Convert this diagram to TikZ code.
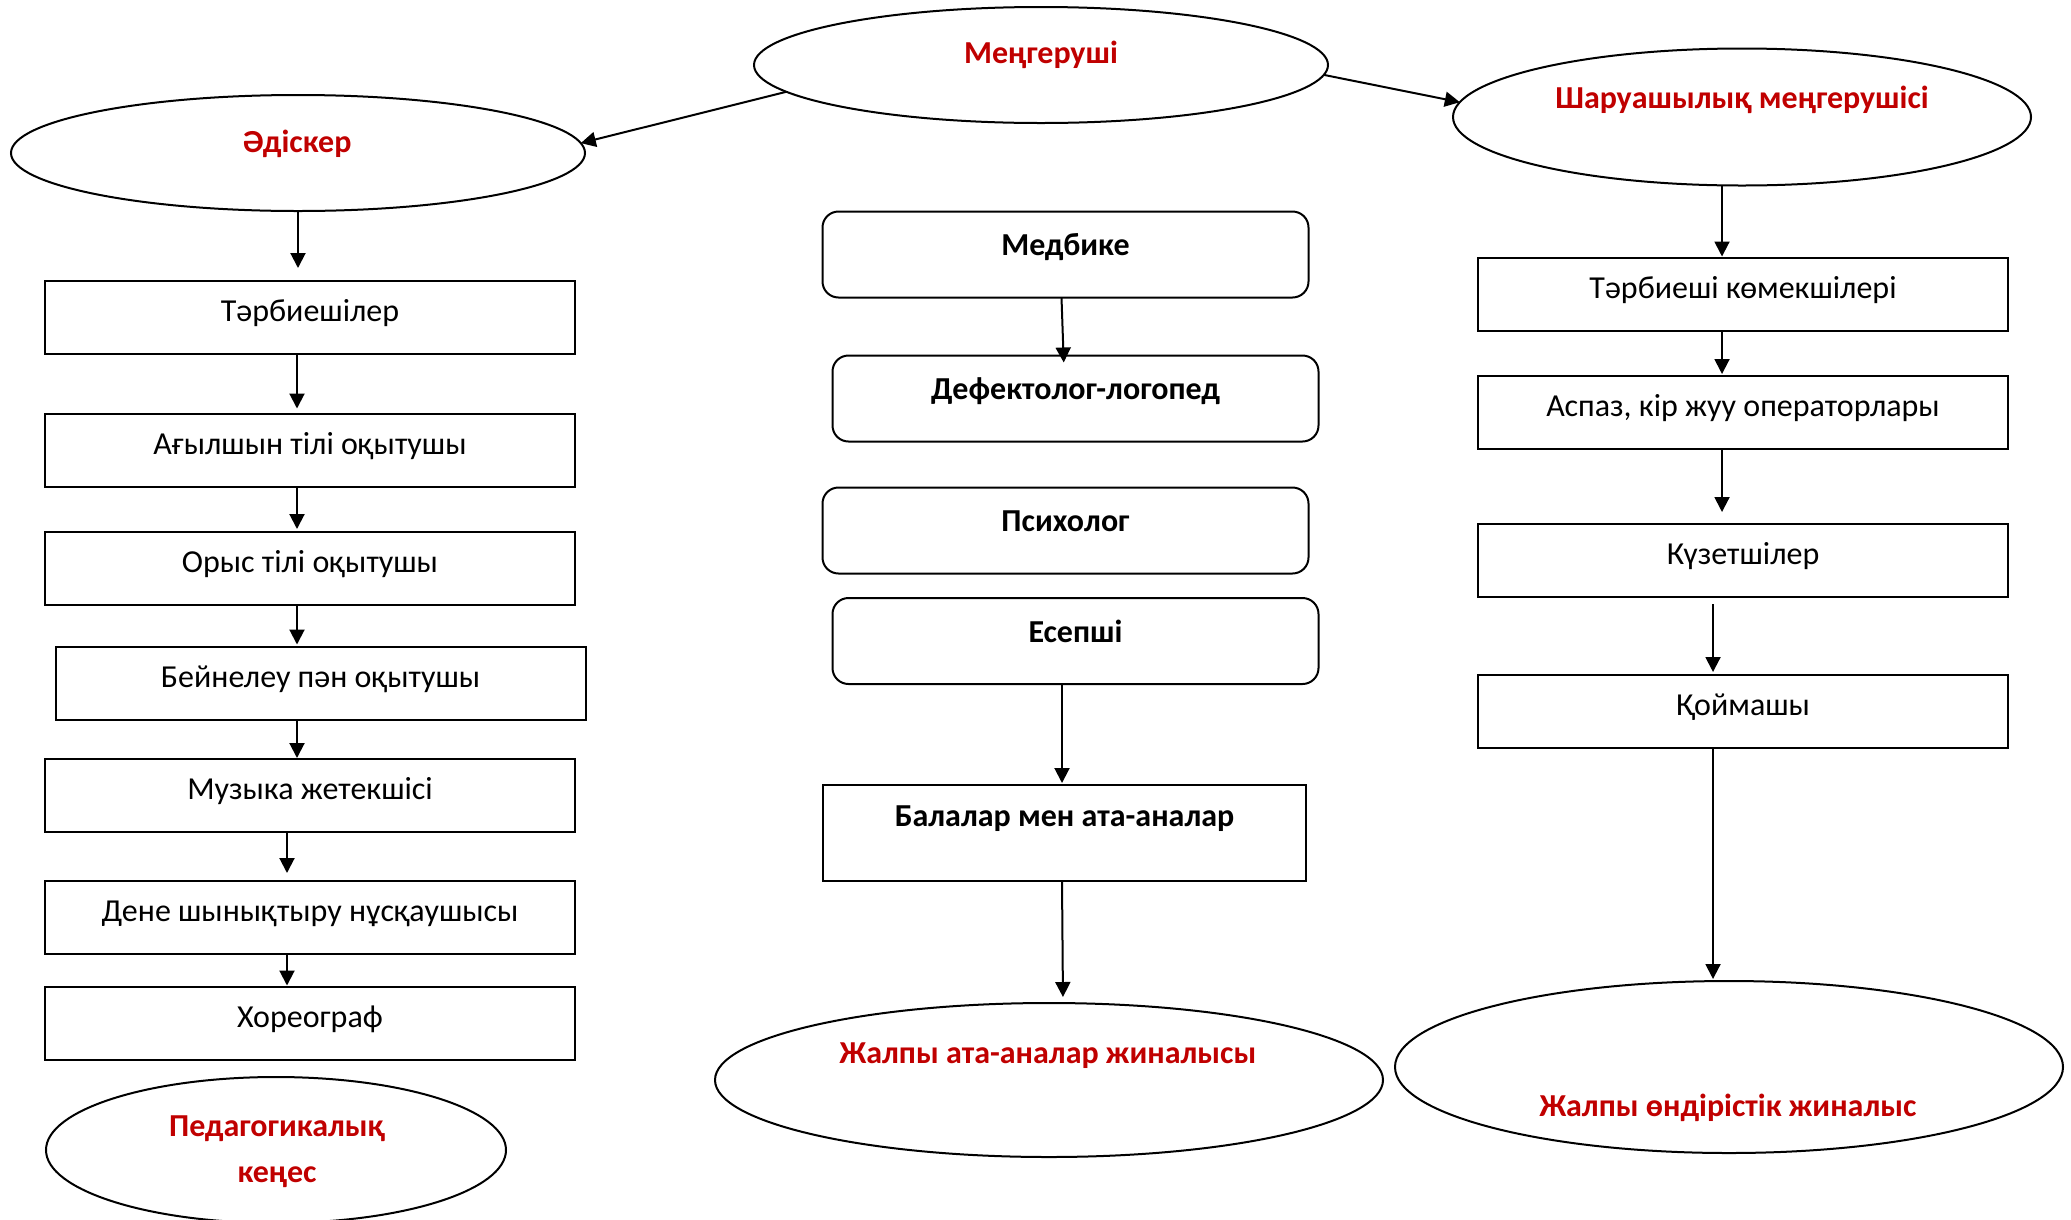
\documentclass[tikz,border=0pt]{standalone}
\usepackage{fontspec}
\setmainfont{Carlito}
\usetikzlibrary{arrows.meta,shapes.geometric}
\definecolor{wred}{HTML}{C00000}
\begin{document}
\begin{tikzpicture}[x=1pt,y=-1pt,
  every node/.style={inner sep=0pt, outer sep=0pt},
  ell/.style={draw, ellipse, line width=2pt},
  sbox/.style={draw, rectangle, line width=2pt, minimum width=530pt, minimum height=73pt},
  rbox/.style={draw, rectangle, rounded corners=16pt, line width=2pt, minimum width=486pt, minimum height=86pt},
  txt/.style={anchor=base, font=\fontsize{32}{38}\selectfont},
  btxt/.style={anchor=base, font=\fontsize{32}{38}\selectfont\bfseries},
  rtxt/.style={btxt, text=wred},
  arr/.style={line width=2pt, -{Triangle[length=15pt,width=15pt]}}
]
\useasboundingbox (0,0) rectangle (2071,1219);

% ellipses top
\node[ell, minimum width=574pt, minimum height=116pt] (men) at (1041,65) {};
\node[rtxt] (menT) at (1041,63) {Меңгеруші};
\node[ell, minimum width=574pt, minimum height=116pt] (adi) at (298,153) {};
\node[rtxt] (adiT) at (297,152) {Әдіскер};
\node[ell, minimum width=578pt, minimum height=137pt] (shar) at (1742,117) {};
\node[rtxt] (sharT) at (1742,108) {Шаруашылық меңгерушісі};

% left column
\node[sbox] (tarb) at (310,317.5) {};
\node[txt] (tarbT) at (310,321.5) {Тәрбиешілер};
\node[sbox] (agyl) at (310,450) {};
\node[txt] (agylT) at (310,454) {Ағылшын тілі оқытушы};
\node[sbox] (orys) at (310,568.5) {};
\node[txt] (orysT) at (310,572.5) {Орыс тілі оқытушы};
\node[sbox] (bein) at (320.5,683) {};
\node[txt] (beinT) at (320.5,687) {Бейнелеу пән оқытушы};
\node[sbox] (muz) at (310,795.5) {};
\node[txt] (muzT) at (310,799.5) {Музыка жетекшісі};
\node[sbox] (dene) at (310,917.5) {};
\node[txt] (deneT) at (310,921.5) {Дене шынықтыру нұсқаушысы};
\node[sbox] (hor) at (310,1023) {};
\node[txt] (horT) at (310,1027) {Хореограф};
\node[ell, minimum width=460pt, minimum height=146pt] (ped) at (276,1150) {};
\node[rtxt] (pedT1) at (277,1136) {Педагогикалық};
\node[rtxt] (pedT2) at (277,1182) {кеңес};

% middle column
\node[rbox] (medb) at (1065.5,254.5) {};
\node[btxt] (medbT) at (1065.5,255) {Медбике};
\node[rbox] (def) at (1075.5,398.5) {};
\node[btxt] (defT) at (1075.5,399) {Дефектолог-логопед};
\node[rbox] (psy) at (1065.5,530.5) {};
\node[btxt] (psyT) at (1065.5,531) {Психолог};
\node[rbox] (esep) at (1075.5,641) {};
\node[btxt] (esepT) at (1075.5,642) {Есепші};
\node[draw, rectangle, line width=2pt, minimum width=483pt, minimum height=96pt] (bal) at (1064.5,833) {};
\node[btxt] (balT) at (1064.5,826) {Балалар мен ата-аналар};
\node[ell, minimum width=668pt, minimum height=154pt] (zh1) at (1049,1080) {};
\node[rtxt] (zh1T) at (1048,1063) {Жалпы ата-аналар жиналысы};

% right column
\node[sbox] (tk) at (1743,294) {};
\node[txt] (tkT) at (1743,298) {Тәрбиеші көмекшілері};
\node[sbox] (asp) at (1743,412.5) {};
\node[txt] (aspT) at (1743,416.5) {Аспаз, кір жуу операторлары};
\node[sbox] (kuz) at (1743,560.5) {};
\node[txt] (kuzT) at (1743,564.5) {Күзетшілер};
\node[sbox] (koim) at (1743,711.5) {};
\node[txt] (koimT) at (1743,715.5) {Қоймашы};
\node[ell, minimum width=668pt, minimum height=172pt] (zh2) at (1729,1067) {};
\node[rtxt] (zh2T) at (1728,1116) {Жалпы өндірістік жиналыс};

% connectors
\draw[arr] (men.186) -- (adi.2);
\draw[arr] (men.-2) -- (shar.177);

\draw[arr, shorten >=13pt] (adi.south) -- (adi.south |- tarb.north);
\draw[arr, shorten >=5pt] ([xshift=-13pt]tarb.south) -- ([xshift=-13pt]agyl.north);
\draw[arr, shorten >=3pt] ([xshift=-13pt]agyl.south) -- ([xshift=-13pt]orys.north);
\draw[arr, shorten >=2pt] ([xshift=-13pt]orys.south) -- ([xshift=-23.5pt]bein.north);
\draw[arr, shorten >=1pt] ([xshift=-23.5pt]bein.south) -- ([xshift=-13pt]muz.north);
\draw[arr, shorten >=8pt] ([xshift=-23pt]muz.south) -- ([xshift=-23pt]dene.north);
\draw[arr, shorten >=1pt] ([xshift=-23pt]dene.south) -- ([xshift=-23pt]hor.north);

\draw[arr, shorten >=-7pt] ([xshift=-4pt]medb.south) -- ([xshift=-12pt]def.north);
\draw[arr, shorten >=2pt] ([xshift=-13.5pt]esep.south) -- ([xshift=-2.5pt]bal.north);
\draw[arr, shorten >=6pt] ([xshift=-2.5pt]bal.south) -- ([xshift=14pt]zh1.north);

\draw[arr, shorten >=1pt] ([xshift=-20pt]shar.south) -- ([xshift=-21pt]tk.north);
\draw[arr, shorten >=2pt] ([xshift=-21pt]tk.south) -- ([xshift=-21pt]asp.north);
\draw[arr, shorten >=12pt] ([xshift=-21pt]asp.south) -- ([xshift=-21pt]kuz.north);
\draw[arr, shorten <=7pt, shorten >=3pt] ([xshift=-30pt]kuz.south) -- ([xshift=-30pt]koim.north);
\draw[arr, shorten >=2pt] ([xshift=-30pt]koim.south) -- ([xshift=-16pt]zh2.north);
\end{tikzpicture}
\end{document}
